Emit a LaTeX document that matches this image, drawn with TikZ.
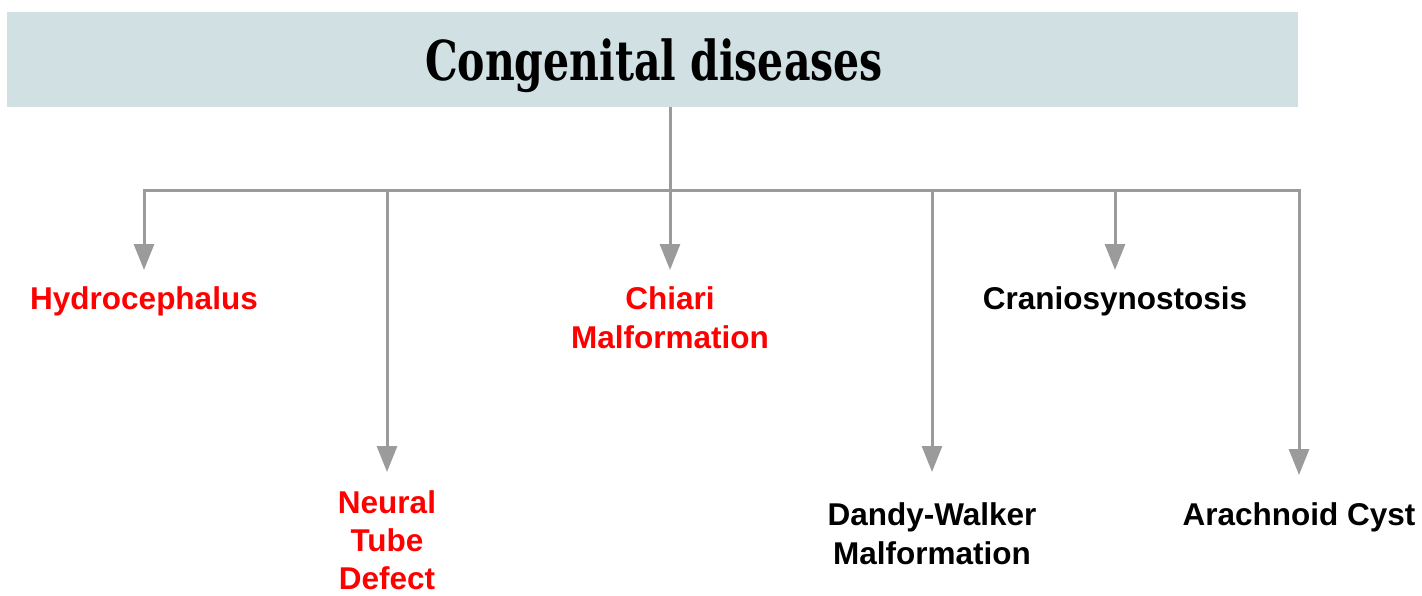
\documentclass[tikz,border=0pt]{standalone}
\usepackage{fontspec}
\usepackage{graphicx}
\usetikzlibrary{arrows.meta}
\newfontfamily\lblfont{Liberation Sans}
\newfontfamily\ttlfont{DejaVu Serif}
\definecolor{boxfill}{HTML}{D0E0E3}
\definecolor{linegray}{HTML}{9B9B9B}
\definecolor{lblred}{HTML}{FF0000}
\newcommand{\capstrut}{\rule{0pt}{22.5pt}}
\begin{document}
\begin{tikzpicture}[x=1pt,y=-1pt,
  conn/.style={draw=linegray, line width=3pt, line join=miter},
  arr/.style={conn, -{Triangle[length=26pt,width=20pt]}},
  lbl/.style={anchor=north, align=center, inner sep=0pt,
    font=\fontsize{31.5}{39}\selectfont\lblfont\bfseries},
  redlbl/.style={lbl, text=lblred},
  blklbl/.style={lbl, text=black}]
\useasboundingbox (0,0) rectangle (1422,595);
% title box
\node[draw=none, fill=boxfill, minimum width=1291pt, minimum height=95pt, inner sep=0pt] (top) at (652.5,59.5) {};
\node[anchor=base, inner sep=0pt] (title) at (654,80)
  {\resizebox{458pt}{\height}{\fontsize{55}{60}\selectfont\ttlfont\bfseries Congenital diseases}};
% labels
\node[redlbl] (hydro) at (144,286) {\capstrut Hydrocephalus};
\node[redlbl, font=\fontsize{31.5}{38}\selectfont\lblfont\bfseries] (neural) at (387,490) {\capstrut Neural\\Tube\\Defect};
\node[redlbl] (chiari) at (670,286) {\capstrut Chiari\\Malformation};
\node[blklbl] (dandy) at (932,502) {\capstrut Dandy-Walker\\Malformation};
\node[blklbl] (crani) at (1115,286) {\capstrut Craniosynostosis};
\node[blklbl] (arach) at (1299,502) {\capstrut Arachnoid Cyst};
% bar coordinates
\coordinate (jC) at (670,190);
\coordinate (jN) at (387,190);
\coordinate (jD) at (932,190);
\coordinate (jK) at (1115,190);
% connectors
\draw[arr, shorten >=16pt] (chiari.north |- top.south) -- (chiari.north);
\draw[arr, shorten >=16pt] (jC) -| (hydro.north);
\draw[arr, shorten >=27pt] (jC) -| (arach.north);
\draw[arr, shorten >=18pt] (jN) -- (neural.north);
\draw[arr, shorten >=30pt] (jD) -- (dandy.north);
\draw[arr, shorten >=16pt] (jK) -- (crani.north);
\end{tikzpicture}
\end{document}
